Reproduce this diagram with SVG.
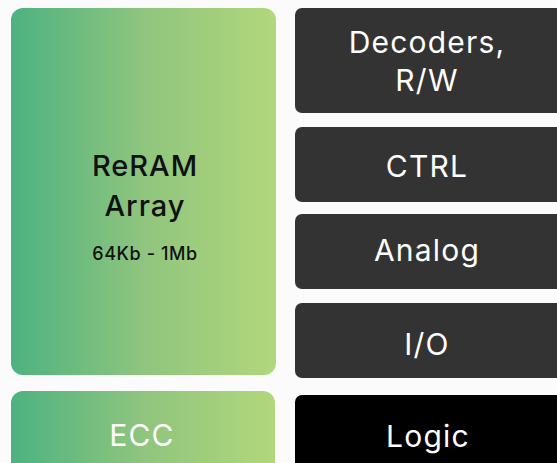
<svg xmlns="http://www.w3.org/2000/svg" width="557" height="463" viewBox="0 0 557 463">
  <defs>
    <linearGradient id="g" x1="0" y1="0" x2="1" y2="0">
      <stop offset="0" stop-color="#4db280"/>
      <stop offset="0.5" stop-color="#8fc57e"/>
      <stop offset="1" stop-color="#b2d77b"/>
    </linearGradient>
    <style>
      .dark { fill: #333333; }
      .black { fill: #000000; }
      .green { fill: url(#g); }
      text { font-family: "Inter", "Open Sans", "Liberation Sans", sans-serif; text-anchor: middle; }
      .w { fill: #ffffff; font-size: 30px; letter-spacing: 1.2px; }
      .k { fill: #111111; font-size: 29px; font-weight: 500; letter-spacing: 1px; }
      .ks { fill: #111111; font-size: 18px; font-weight: 500; letter-spacing: 0.6px; }
    </style>
  </defs>
  <rect width="557" height="463" fill="#fbfbfb"/>
  <g id="connectors"></g>
  <g id="reram">
    <rect class="green" x="11" y="8" width="265" height="367" rx="12"/>
    <text class="k" x="145" y="176">ReRAM</text>
    <text class="k" x="145" y="216">Array</text>
    <text class="ks" x="145" y="260">64Kb - 1Mb</text>
  </g>
  <g id="ecc">
    <rect class="green" x="11" y="391" width="264" height="84" rx="12"/>
    <text class="w" x="142" y="446">ECC</text>
  </g>
  <g id="decoders">
    <rect class="dark" x="295" y="8" width="275" height="105" rx="7"/>
    <text class="w" x="427" y="53">Decoders,</text>
    <text class="w" x="427" y="91">R/W</text>
  </g>
  <g id="ctrl">
    <rect class="dark" x="295" y="127" width="275" height="75" rx="7"/>
    <text class="w" x="427" y="177">CTRL</text>
  </g>
  <g id="analog">
    <rect class="dark" x="295" y="214" width="275" height="75" rx="7"/>
    <text class="w" x="427" y="261">Analog</text>
  </g>
  <g id="io">
    <rect class="dark" x="295" y="303" width="275" height="75" rx="7"/>
    <text class="w" x="427" y="355">I/O</text>
  </g>
  <g id="logic">
    <rect class="black" x="295" y="395" width="275" height="80" rx="7"/>
    <text class="w" x="428" y="447">Logic</text>
  </g>
</svg>
